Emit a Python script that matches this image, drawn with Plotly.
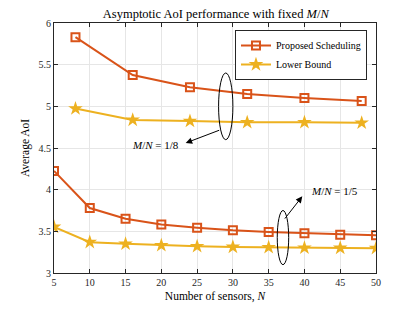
import plotly.graph_objects as go

x_18 = [8, 16, 24, 32, 40, 48]
prop_18 = [5.83, 5.375, 5.23, 5.148, 5.10, 5.063]
lb_18 = [4.973, 4.837, 4.823, 4.808, 4.808, 4.802]

x_15 = [5, 10, 15, 20, 25, 30, 35, 40, 45, 50]
prop_15 = [4.225, 3.78, 3.65, 3.583, 3.544, 3.513, 3.493, 3.477, 3.46, 3.453]
lb_15 = [3.552, 3.37, 3.35, 3.332, 3.32, 3.312, 3.308, 3.302, 3.30, 3.298]

x_ticks = [5, 10, 15, 20, 25, 30, 35, 40, 45, 50]
y_ticks = [3, 3.5, 4, 4.5, 5, 5.5, 6]

C_PROP = "#D95319"
C_LB = "#EDB120"
FONT = "Liberation Serif"

fig = go.Figure()

def add_pair(x, p, l, show):
    fig.add_trace(go.Scatter(x=x, y=p, mode="lines+markers", name="Proposed Scheduling",
                             line=dict(color=C_PROP, width=2),
                             marker=dict(symbol="square-open", size=8, color=C_PROP, line=dict(width=2)),
                             showlegend=show))
    fig.add_trace(go.Scatter(x=x, y=l, mode="lines+markers", name="Lower Bound",
                             line=dict(color=C_LB, width=2),
                             marker=dict(symbol="star", size=11, color=C_LB, line=dict(width=0)),
                             showlegend=show))

add_pair(x_18, prop_18, lb_18, True)
add_pair(x_15, prop_15, lb_15, False)

# ellipses
fig.add_shape(type="circle", xref="x", yref="y", x0=28.0, x1=30.0, y0=4.60, y1=5.40,
              line=dict(color="black", width=1))
fig.add_shape(type="circle", xref="x", yref="y", x0=36.2, x1=37.8, y0=3.10, y1=3.75,
              line=dict(color="black", width=1))

# arrows
fig.add_annotation(x=23.4, y=4.56, ax=28.3, ay=4.72, xref="x", yref="y", axref="x", ayref="y",
                   showarrow=True, arrowhead=2, arrowsize=1.3, arrowwidth=1, arrowcolor="black", text="")
fig.add_annotation(x=39.7, y=3.92, ax=37.1, ay=3.635, xref="x", yref="y", axref="x", ayref="y",
                   showarrow=True, arrowhead=2, arrowsize=1.3, arrowwidth=1, arrowcolor="black", text="")
fig.add_annotation(x=19.2, y=4.54, xref="x", yref="y", showarrow=False,
                   text="<i>M</i>/<i>N</i> = 1/8", font=dict(family=FONT, size=11, color="black"))
fig.add_annotation(x=44.2, y=3.99, xref="x", yref="y", showarrow=False,
                   text="<i>M</i>/<i>N</i> = 1/5", font=dict(family=FONT, size=11, color="black"))

axis_common = dict(showline=True, linecolor="#262626", linewidth=1, mirror="ticks",
                   ticks="inside", ticklen=4, tickcolor="#262626",
                   showgrid=True, gridcolor="#E6E6E6", gridwidth=1, zeroline=False,
                   tickfont=dict(family=FONT, size=10, color="#262626"))

fig.update_layout(
    width=415, height=312,
    margin=dict(l=54, r=39, t=23, b=35),
    paper_bgcolor="white", plot_bgcolor="white",
    title=dict(text="Asymptotic AoI performance with fixed <i>M</i>/<i>N</i>",
               x=0.52, xanchor="center", y=0.955, yanchor="middle",
               font=dict(family=FONT, size=12.5, color="black")),
    xaxis=dict(range=[5, 50], tickvals=x_ticks, **axis_common,
               title=dict(text="Number of sensors, <i>N</i>", standoff=4,
                          font=dict(family=FONT, size=11.5, color="black"))),
    yaxis=dict(range=[3, 6], tickvals=y_ticks, **axis_common,
               title=dict(text="Average AoI", standoff=6,
                          font=dict(family=FONT, size=11.5, color="black"))),
    legend=dict(x=0.972, y=0.972, xanchor="right", yanchor="top",
                bgcolor="white", bordercolor="#262626", borderwidth=1,
                font=dict(family=FONT, size=10, color="black"),
                itemwidth=30, tracegroupgap=0),
    showlegend=True,
)

fig.write_html("out.html", config={"displayModeBar": False},
               post_script="document.body.style.margin='0';")
